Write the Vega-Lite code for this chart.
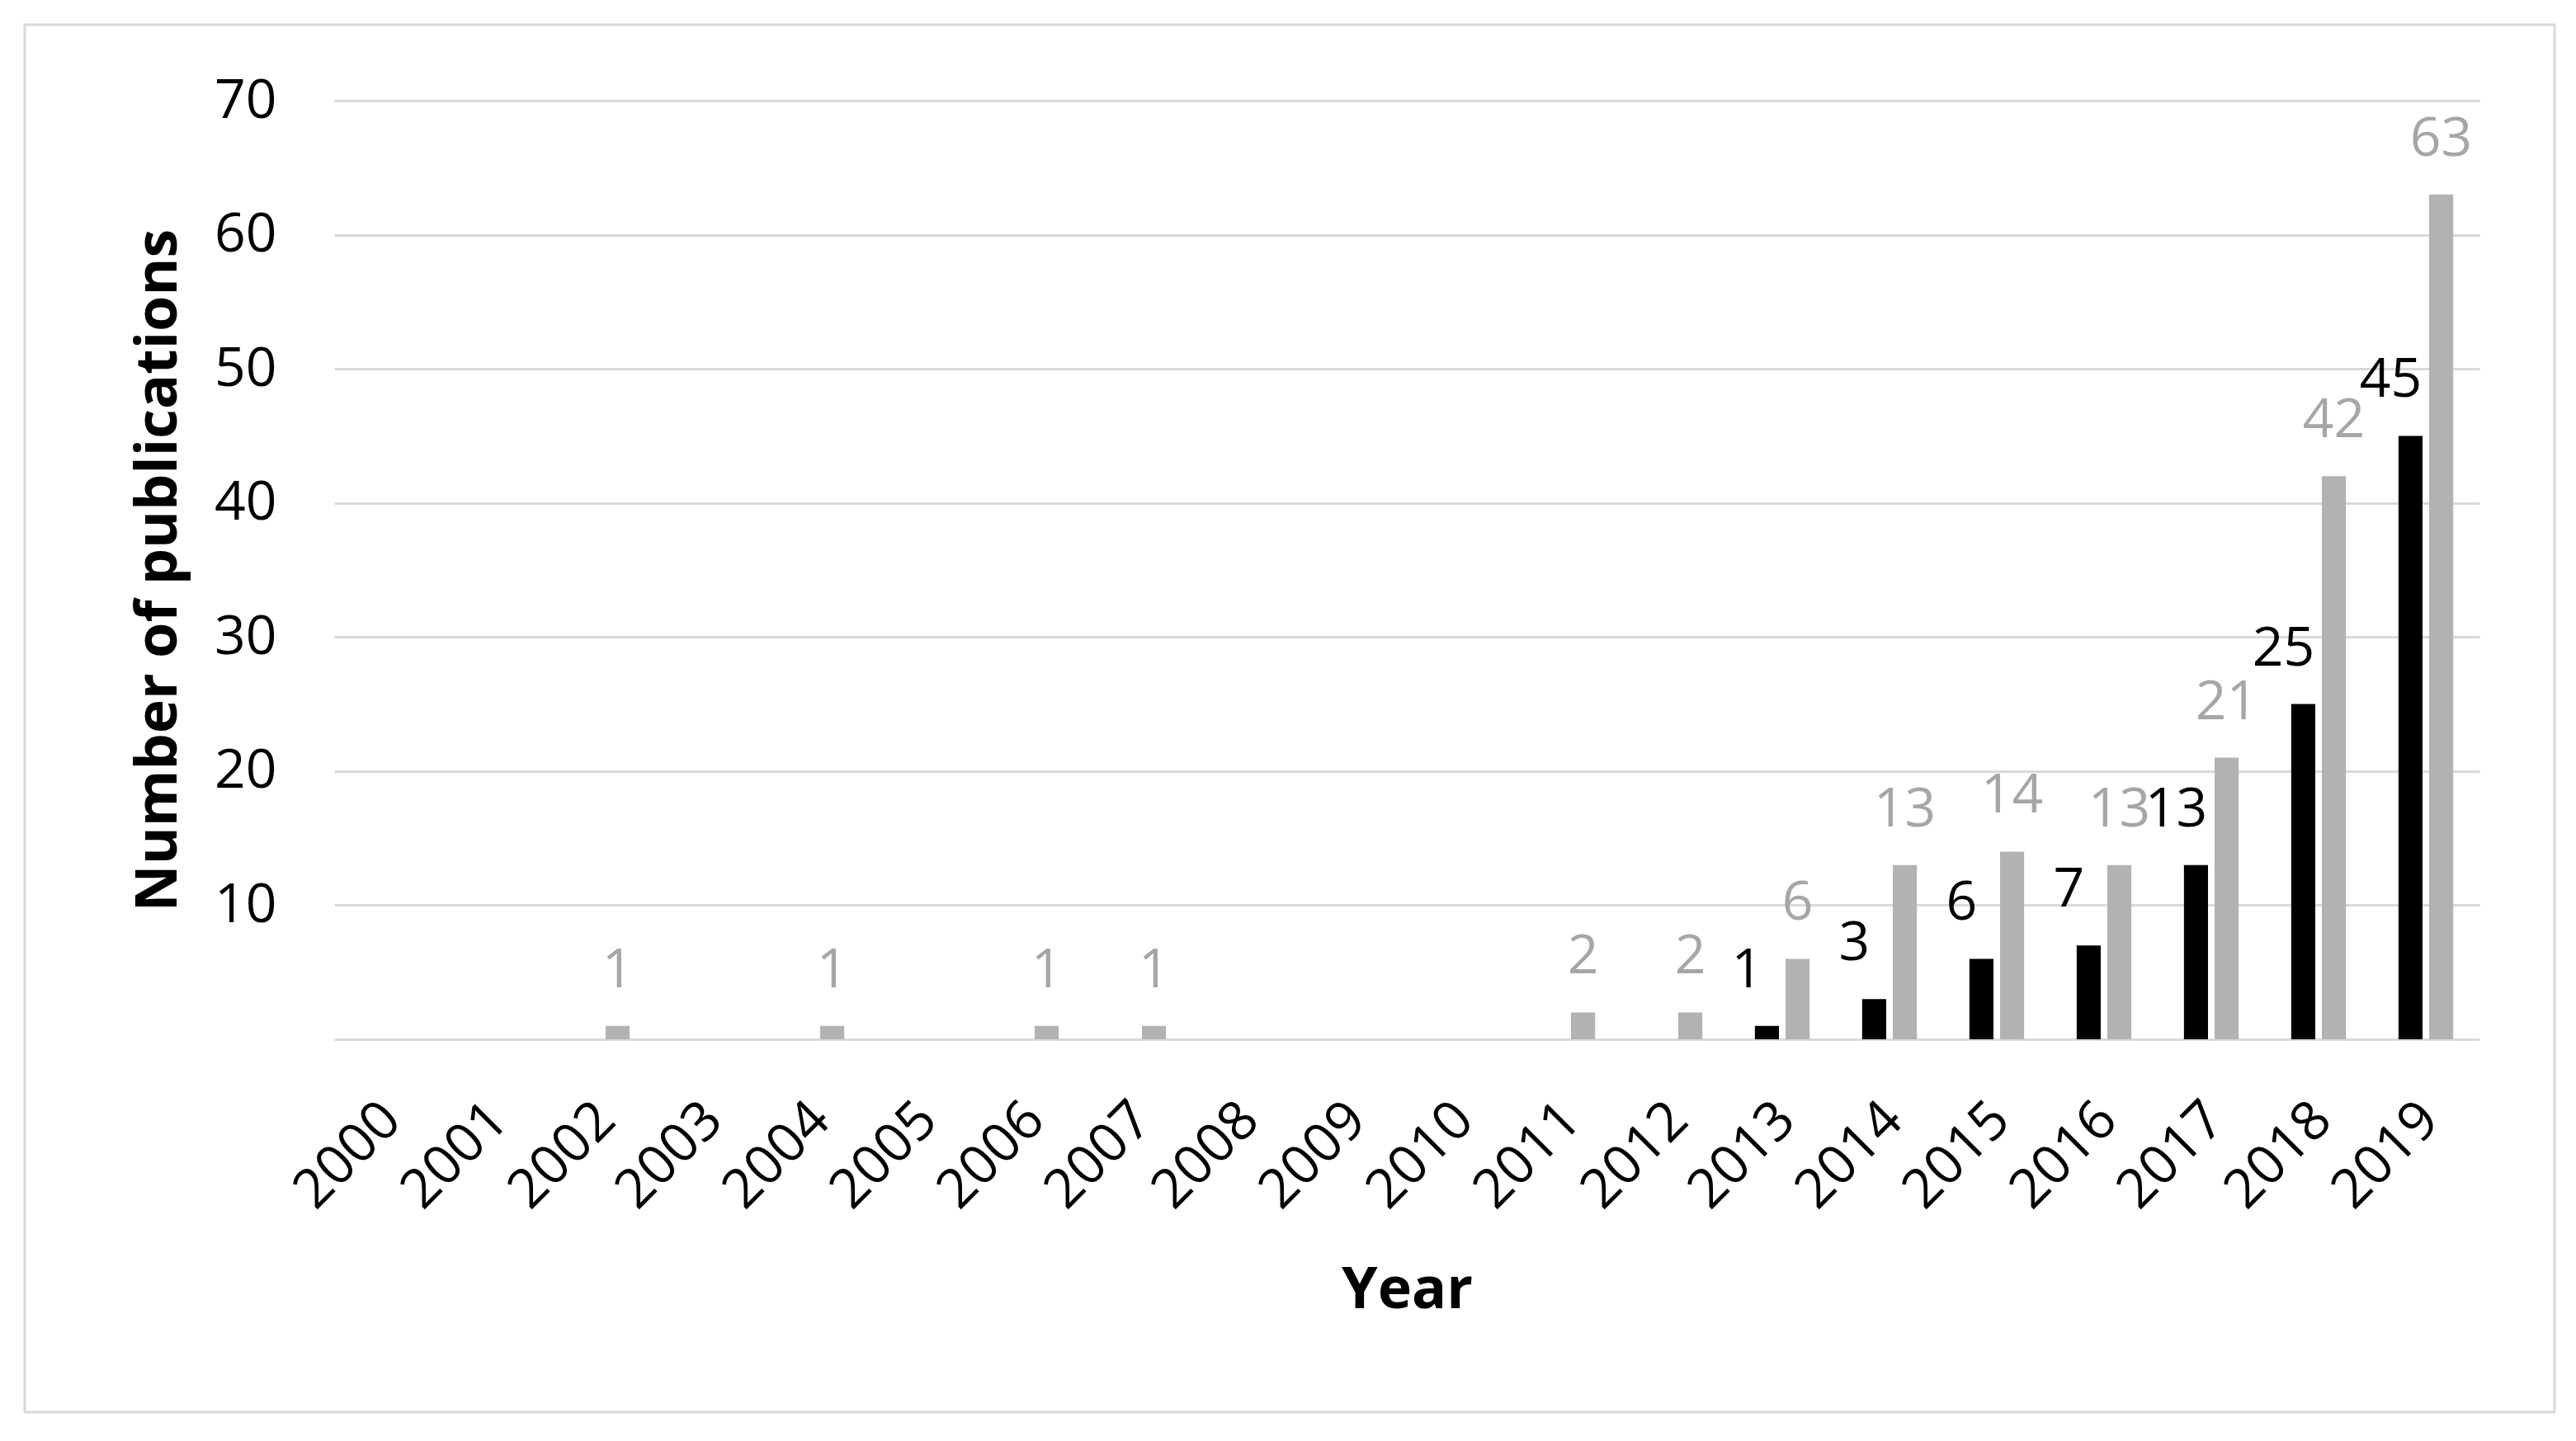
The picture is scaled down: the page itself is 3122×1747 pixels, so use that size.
{
  "$schema": "https://vega.github.io/schema/vega-lite/v6.json",
  "width": 3066,
  "height": 1682,
  "autosize": {"type": "none"},
  "padding": {"left": 30, "top": 30, "right": 26, "bottom": 35},
  "background": "white",
  "config": {
    "view": {"stroke": "#d9d9d9", "strokeWidth": 3},
    "font": "Open Sans"
  },
  "data": {
    "values": [
      {"year": "2000", "series": "Series 1", "count": 0},
      {"year": "2000", "series": "Series 2", "count": 0},
      {"year": "2001", "series": "Series 1", "count": 0},
      {"year": "2001", "series": "Series 2", "count": 0},
      {"year": "2002", "series": "Series 1", "count": 0},
      {"year": "2002", "series": "Series 2", "count": 1},
      {"year": "2003", "series": "Series 1", "count": 0},
      {"year": "2003", "series": "Series 2", "count": 0},
      {"year": "2004", "series": "Series 1", "count": 0},
      {"year": "2004", "series": "Series 2", "count": 1},
      {"year": "2005", "series": "Series 1", "count": 0},
      {"year": "2005", "series": "Series 2", "count": 0},
      {"year": "2006", "series": "Series 1", "count": 0},
      {"year": "2006", "series": "Series 2", "count": 1},
      {"year": "2007", "series": "Series 1", "count": 0},
      {"year": "2007", "series": "Series 2", "count": 1},
      {"year": "2008", "series": "Series 1", "count": 0},
      {"year": "2008", "series": "Series 2", "count": 0},
      {"year": "2009", "series": "Series 1", "count": 0},
      {"year": "2009", "series": "Series 2", "count": 0},
      {"year": "2010", "series": "Series 1", "count": 0},
      {"year": "2010", "series": "Series 2", "count": 0},
      {"year": "2011", "series": "Series 1", "count": 0},
      {"year": "2011", "series": "Series 2", "count": 2},
      {"year": "2012", "series": "Series 1", "count": 0},
      {"year": "2012", "series": "Series 2", "count": 2},
      {"year": "2013", "series": "Series 1", "count": 1},
      {"year": "2013", "series": "Series 2", "count": 6},
      {"year": "2014", "series": "Series 1", "count": 3},
      {"year": "2014", "series": "Series 2", "count": 13},
      {"year": "2015", "series": "Series 1", "count": 6},
      {"year": "2015", "series": "Series 2", "count": 14},
      {"year": "2016", "series": "Series 1", "count": 7},
      {"year": "2016", "series": "Series 2", "count": 13},
      {"year": "2017", "series": "Series 1", "count": 13},
      {"year": "2017", "series": "Series 2", "count": 21},
      {"year": "2018", "series": "Series 1", "count": 25},
      {"year": "2018", "series": "Series 2", "count": 42},
      {"year": "2019", "series": "Series 1", "count": 45},
      {"year": "2019", "series": "Series 2", "count": 63}
    ]
  },
  "encoding": {
    "x": {
      "field": "year",
      "type": "nominal",
      "title": "Year",
      "scale": {"range": [375, 2975], "paddingInner": 0.49, "paddingOuter": 0.245},
      "axis": {
        "offset": -452,
        "labelAngle": -45,
        "labelAlign": "right",
        "labelBaseline": "middle",
        "labelPadding": 87,
        "labelOffset": 5,
        "labelFontSize": 66,
        "labelColor": "#000000",
        "labelOverlap": false,
        "domain": false,
        "ticks": false,
        "tickSize": 0,
        "grid": false,
        "titleFontSize": 70,
        "titleFontWeight": "bold",
        "titleColor": "#000000",
        "titlePadding": 70
      }
    },
    "xOffset": {
      "field": "series",
      "type": "nominal",
      "scale": {"paddingInner": 0.216, "paddingOuter": 0}
    },
    "y": {
      "field": "count",
      "type": "quantitative",
      "title": "Number of publications",
      "scale": {"domain": [0, 70], "range": [1230, 92], "nice": false},
      "axis": {
        "offset": -375,
        "values": [0, 10, 20, 30, 40, 50, 60, 70],
        "labelExpr": "datum.value == 0 ? '' : datum.label",
        "grid": true,
        "gridColor": "#d9d9d9",
        "gridWidth": 3,
        "domain": false,
        "ticks": false,
        "tickSize": 0,
        "labelPadding": 70,
        "labelFontSize": 66,
        "labelColor": "#000000",
        "titleFontSize": 70,
        "titleFontWeight": "bold",
        "titleColor": "#000000",
        "titlePadding": 31
      }
    }
  },
  "layer": [
    {
      "mark": {"type": "bar"},
      "encoding": {
        "color": {
          "field": "series",
          "type": "nominal",
          "scale": {"domain": ["Series 1", "Series 2"], "range": ["#000000", "#b2b2b2"]},
          "legend": null
        }
      }
    },
    {
      "transform": [{"filter": "datum.series == 'Series 1' && datum.count > 0"}],
      "mark": {"type": "text", "color": "#000000", "fontSize": 66, "baseline": "alphabetic", "dy": -47, "dx": -24},
      "encoding": {"text": {"field": "count", "type": "quantitative"}}
    },
    {
      "transform": [{"filter": "datum.series == 'Series 2' && datum.count > 0"}],
      "mark": {"type": "text", "color": "#a6a6a6", "fontSize": 66, "baseline": "alphabetic", "dy": -47},
      "encoding": {"text": {"field": "count", "type": "quantitative"}}
    }
  ]
}
